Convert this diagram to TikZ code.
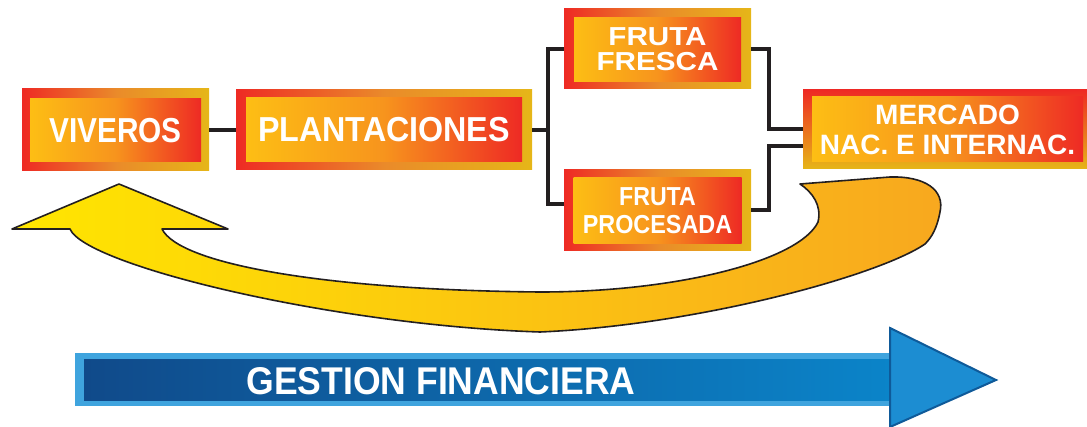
\documentclass[tikz,border=0pt]{standalone}
\usepackage{fontspec}
\setmainfont{Liberation Sans}
\usepackage{graphicx}
\definecolor{fred}{HTML}{EE2A24}
\definecolor{forange}{HTML}{EA8A2A}
\definecolor{fyellow}{HTML}{E6B618}
\definecolor{iyellow}{HTML}{FDBE14}
\definecolor{iorange}{HTML}{F7941D}
\definecolor{ired}{HTML}{EE2A24}
\definecolor{linkc}{HTML}{231F20}
\definecolor{ayellow}{HTML}{FFE600}
\definecolor{aorange}{HTML}{F8A81F}
\definecolor{bdark}{HTML}{104A8A}
\definecolor{blight}{HTML}{0B84C9}
\definecolor{bborder}{HTML}{3FA4DE}
\definecolor{bhead}{HTML}{1C8DD2}
\definecolor{bheadedge}{HTML}{0F5A99}
\begin{document}
\begin{tikzpicture}[x=0.75pt,y=-0.75pt,
  outerbox/.style={inner sep=0pt, left color=fred, right color=fyellow, middle color=forange},
  innerbox/.style={inner sep=0pt, left color=iyellow, right color=ired, middle color=iorange, text=white, font=\bfseries, align=center},
  link/.style={draw=linkc, line width=3pt},
  bigfont/.style={font=\bfseries\fontsize{26}{28}\selectfont},
]
\useasboundingbox (0,0) rectangle (1087,427);

% yellow return arrow
\path[draw=linkc, line width=1.2pt, left color=ayellow, right color=aorange, line join=round]
  (70,229) -- (12,229) -- (119,184) -- (228,229) -- (162,229)
  .. controls (180,265) and (330,290) .. (540,292)
  .. controls (680,292) and (800,260) .. (818,222)
  .. controls (822,205) and (812,192) .. (800,184)
  -- (890,177)
  .. controls (925,176) and (945,190) .. (940,212)
  .. controls (937,228) and (932,237) .. (925,244)
  .. controls (880,275) and (700,325) .. (540,332)
  .. controls (330,325) and (85,265) .. (70,229) -- cycle;

% blue arrow
\fill[bborder] (75,353) rectangle (891,406);
\fill[left color=bdark, right color=blight] (84,359) rectangle (891,400);
\path[fill=bhead, draw=bheadedge, line width=1.5pt, line join=miter] (890,328) -- (996,380) -- (890,427) -- cycle;
\node[text=white, inner sep=0pt, font=\bfseries\fontsize{29}{31}\selectfont] (gestion) at (441,381) {\scalebox{0.92}[1]{GESTION FINANCIERA}};

% boxes
\node[outerbox, minimum width=140.25pt, minimum height=61.5pt] (viv) at (115.5,130) {};
\node[innerbox, bigfont, minimum width=128.25pt, minimum height=47.25pt] (vivin) at (115.5,130.5) {\scalebox{0.86}[1]{VIVEROS}};

\node[outerbox, minimum width=222pt, minimum height=60pt] (plan) at (384,130) {};
\node[innerbox, bigfont, minimum width=207pt, minimum height=48pt] (planin) at (384,130) {\scalebox{0.93}[1]{PLANTACIONES}};

\node[outerbox, minimum width=140.25pt, minimum height=60pt] (fresca) at (657.5,49) {};
\node[innerbox, font=\bfseries\fontsize{19.5}{18.75}\selectfont, minimum width=125.25pt, minimum height=48pt] (frescain) at (657.5,49.5) {\scalebox{1.14}[1]{FRUTA}\\\scalebox{1.14}[1]{FRESCA}};

\node[outerbox, minimum width=140.25pt, minimum height=60.75pt] (proc) at (657.5,210.5) {};
\node[innerbox, font=\bfseries\fontsize{19.5}{21}\selectfont, minimum width=126pt, minimum height=49.5pt] (procin) at (657.5,211) {\scalebox{0.89}[1]{FRUTA}\\\scalebox{0.9}[1]{PROCESADA}};

\node[inner sep=0pt, top color=fred, bottom color=fyellow, minimum width=213pt, minimum height=59.25pt] (merc) at (945,129.5) {};
\node[innerbox, font=\bfseries\fontsize{21}{22.5}\selectfont, minimum width=203.25pt, minimum height=48.75pt] (mercin) at (947.5,129.5) {MERCADO\\NAC. E INTERNAC.};

% connectors
\coordinate (jl) at (548,130);
\coordinate (jr) at (769,130);
\draw[link] (viv.east) -- (plan.west);
\draw[link] (plan.east) -- (jl);
\draw[link] (fresca.west) -- (fresca.west -| jl) -- ([yshift=4.9pt]proc.west -| jl) -- ([yshift=4.9pt]proc.west);
\draw[link] (fresca.east) -- (fresca.east -| jr) -- (merc.west -| jr) -- (merc.west);
\draw[link] (proc.east) -- (proc.east -| jr) -- ([yshift=-12.4pt]merc.west -| jr) -- ([yshift=-12.4pt]merc.west);
\end{tikzpicture}
\end{document}
